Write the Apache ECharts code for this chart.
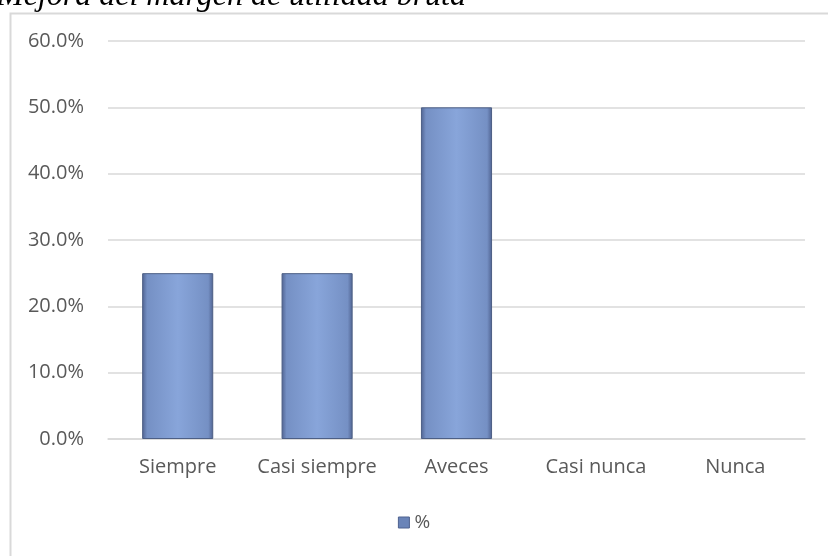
<!DOCTYPE html>
<html><head><meta charset="utf-8">
<script src="https://cdn.jsdelivr.net/npm/echarts@6/dist/echarts.min.js"></script>
<style>html,body{margin:0;padding:0;background:#fff}#c{width:828px;height:556px}</style>
</head><body><div id="c"></div>
<script>
const titleText = 'Mejora del margen de utilidad bruta';
const categories = ['Siempre', 'Casi siempre', 'Aveces', 'Casi nunca', 'Nunca'];
const seriesName = '%';
const values = [25, 25, 50, 0, 0];
const yTicks = [0, 10, 20, 30, 40, 50, 60];

const chart = echarts.init(document.getElementById('c'));
const barGrad = {
  type: 'linear', x: 0, y: 0, x2: 1, y2: 0,
  colorStops: [
    {offset: 0, color: '#4f6290'},
    {offset: 0.07, color: '#7590c4'},
    {offset: 0.5, color: '#88a5da'},
    {offset: 0.93, color: '#7590c4'},
    {offset: 1, color: '#4f6290'}
  ]
};
const barData = values.map(v => ({value: v, itemStyle: {borderWidth: v > 0 ? 1 : 0, opacity: v > 0 ? 1 : 0}}));
chart.setOption({
  animation: false,
  graphic: [
    {type: 'rect', left: 8, top: 11, shape: {width: 900, height: 600}, style: {fill: 'none', stroke: '#d9d9d9', lineWidth: 2}, z: -1},
    {type: 'text', left: -3, top: -19, style: {text: titleText, fontFamily: 'Liberation Serif', fontStyle: 'italic', fontSize: 32, fill: '#000'}}
  ],
  grid: {left: 108, right: 23, top: 41, bottom: 117, containLabel: false},
  legend: {
    bottom: 19, left: 'center', itemWidth: 11, itemHeight: 11, itemGap: 6,
    icon: 'rect',
    itemStyle: {color: '#6a84b8', borderColor: '#4f6290', borderWidth: 1},
    textStyle: {color: '#595959', fontSize: 19, fontFamily: 'Open Sans'},
    data: [seriesName]
  },
  xAxis: {
    type: 'category', data: categories,
    axisLine: {show: true, lineStyle: {color: '#d9d9d9', width: 1.5}},
    axisTick: {show: false},
    axisLabel: {interval: 0, color: '#595959', fontSize: 20, fontFamily: 'Open Sans', margin: 18}
  },
  yAxis: {
    type: 'value', min: yTicks[0], max: yTicks[yTicks.length - 1], interval: 10,
    axisLine: {show: false}, axisTick: {show: false},
    splitLine: {lineStyle: {color: '#d9d9d9', width: 1.5}},
    axisLabel: {color: '#595959', fontSize: 20, fontFamily: 'Open Sans', margin: 24,
      formatter: v => v.toFixed(1) + '%'}
  },
  series: [{
    name: seriesName, type: 'bar', data: barData, barWidth: '51%',
    itemStyle: {color: barGrad, borderColor: '#4d5f85', borderWidth: 1},
    emphasis: {disabled: true}
  }]
});
</script></body></html>
